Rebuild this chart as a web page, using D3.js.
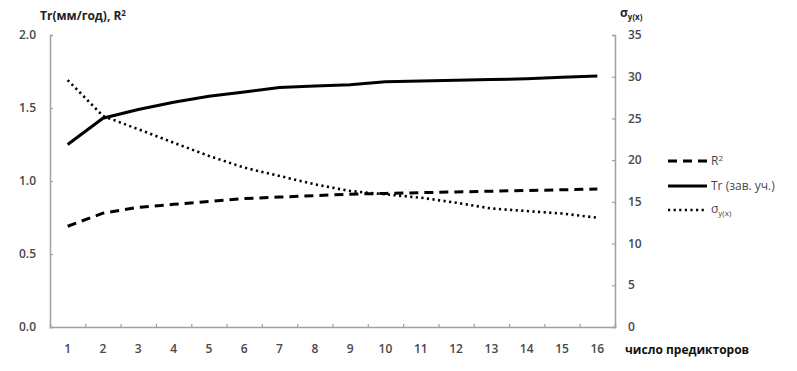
<!DOCTYPE html>
<html>
<head>
<meta charset="utf-8">
<script src="https://cdn.jsdelivr.net/npm/d3@7"></script>
<style>
body { margin: 0; background: #fff; }
text { font-family: "Open Sans", "DejaVu Sans", sans-serif; }
</style>
</head>
<body>
<script>
var predictors = [1,2,3,4,5,6,7,8,9,10,11,12,13,14,15,16];
var trValues = [1.25,1.43,1.49,1.54,1.58,1.61,1.64,1.65,1.66,1.68,1.685,1.69,1.695,1.70,1.71,1.72];
var r2Values = [0.69,0.78,0.82,0.84,0.86,0.88,0.89,0.90,0.91,0.915,0.92,0.925,0.93,0.935,0.94,0.945];
var sigmaValues = [29.6,25.3,23.7,22.1,20.5,19.1,18.1,17.1,16.3,15.9,15.5,14.9,14.2,13.9,13.6,13.1];
var leftTicks = [0,0.5,1.0,1.5,2.0];
var rightTicks = [0,5,10,15,20,25,30,35];

var svgWidth = 797, svgHeight = 371;
var margin = {top: 35, right: 182, bottom: 44, left: 50};
var width = svgWidth - margin.left - margin.right;
var height = svgHeight - margin.top - margin.bottom;

var svg = d3.select("body").append("svg").attr("width", svgWidth).attr("height", svgHeight);
var chartGroup = svg.append("g").attr("transform", `translate(${margin.left}, ${margin.top})`);

var xScale = d3.scaleBand().domain(predictors).range([0, width]);
var yLeft = d3.scaleLinear().domain([0, 2]).range([height, 0]);
var yRight = d3.scaleLinear().domain([0, 35]).range([height, 0]);
var xc = d => xScale(d) + xScale.bandwidth() / 2;

var axisColor = "#a0a0a0", labelColor = "#484848";

// left axis
var leftAxis = d3.axisRight(yLeft).tickValues(leftTicks).tickSize(3).tickFormat(d3.format(".1f"));
var gl = chartGroup.append("g").call(leftAxis);
gl.selectAll("text").remove();
chartGroup.selectAll(".ll").data(leftTicks).enter().append("text")
  .attr("x", -14).attr("y", d => yLeft(d)).attr("dy", "0.35em")
  .attr("text-anchor", "end").attr("font-size", 12).attr("font-weight", 600).attr("fill", labelColor)
  .text(d3.format(".1f"));

// right axis
var rightAxis = d3.axisLeft(yRight).tickValues(rightTicks).tickSize(3);
var gr = chartGroup.append("g").attr("transform", `translate(${width},0)`).call(rightAxis);
gr.selectAll("text").remove();
chartGroup.selectAll(".rl").data(rightTicks).enter().append("text")
  .attr("x", width + 13).attr("y", d => yRight(d)).attr("dy", "0.35em")
  .attr("text-anchor", "start").attr("font-size", 12).attr("font-weight", 600).attr("fill", labelColor)
  .text(d => d);

// bottom axis with ticks between categories
var bottomAxis = d3.axisTop(d3.scaleLinear().domain([0, 16]).range([0, width]))
  .tickValues(d3.range(1, 16)).tickSize(3).tickFormat("");
chartGroup.append("g").attr("transform", `translate(0,${height})`).call(bottomAxis);
chartGroup.selectAll(".xl").data(predictors).enter().append("text")
  .attr("x", xc).attr("y", height + 22).attr("dy", "0.35em")
  .attr("text-anchor", "middle").attr("font-size", 12).attr("font-weight", 600).attr("fill", labelColor)
  .text(d => d);

chartGroup.selectAll(".domain").attr("stroke", axisColor).attr("stroke-width", 1.5);
chartGroup.selectAll(".tick line").attr("stroke", axisColor).attr("stroke-width", 1.2);

// series
var series = [
  {values: r2Values, scale: yLeft, dash: "9,6", width: 3},
  {values: trValues, scale: yLeft, dash: null, width: 3},
  {values: sigmaValues, scale: yRight, dash: "2.2,3.4", width: 2.6}
];
series.forEach(function(s) {
  var line = d3.line().x((d, i) => xc(predictors[i])).y(d => s.scale(d));
  chartGroup.append("path").datum(s.values).attr("d", line)
    .attr("fill", "none").attr("stroke", "#000").attr("stroke-width", s.width)
    .attr("stroke-dasharray", s.dash);
});

// titles
svg.append("text").attr("x", 40).attr("y", 20).attr("font-size", 12).attr("font-weight", "bold").attr("fill", "#222")
  .html('Tr(мм/год), R<tspan dy="-4" font-size="8">2</tspan>');
var sigT = svg.append("text").attr("x", 620).attr("y", 17).attr("font-size", 12).attr("font-weight", "bold").attr("fill", "#222");
sigT.append("tspan").text("σ");
sigT.append("tspan").attr("dy", 3).attr("font-size", 8).text("y(x)");
svg.append("text").attr("x", 625).attr("y", 354).attr("font-size", 12).attr("font-weight", "bold").attr("fill", "#111")
  .text("число предикторов");

// legend
var legend = svg.append("g");
var legendItems = [
  {dash: "9,6", width: 3, y: 161},
  {dash: null, width: 3, y: 186},
  {dash: "2.2,3.4", width: 2.6, y: 210}
];
legendItems.forEach(function(l) {
  legend.append("line").attr("x1", 668).attr("x2", 707).attr("y1", l.y).attr("y2", l.y)
    .attr("stroke", "#000").attr("stroke-width", l.width).attr("stroke-dasharray", l.dash);
});
legend.append("text").attr("x", 711).attr("y", 165).attr("font-size", 12).attr("fill", labelColor)
  .html('R<tspan dy="-4" font-size="8">2</tspan>');
legend.append("text").attr("x", 711).attr("y", 190).attr("font-size", 12).attr("fill", labelColor)
  .text("Tr (зав. уч.)");
var ls = legend.append("text").attr("x", 711).attr("y", 213).attr("font-size", 12).attr("fill", labelColor);
ls.append("tspan").text("σ");
ls.append("tspan").attr("dy", 3).attr("font-size", 8).text("y(x)");
</script>
</body>
</html>
